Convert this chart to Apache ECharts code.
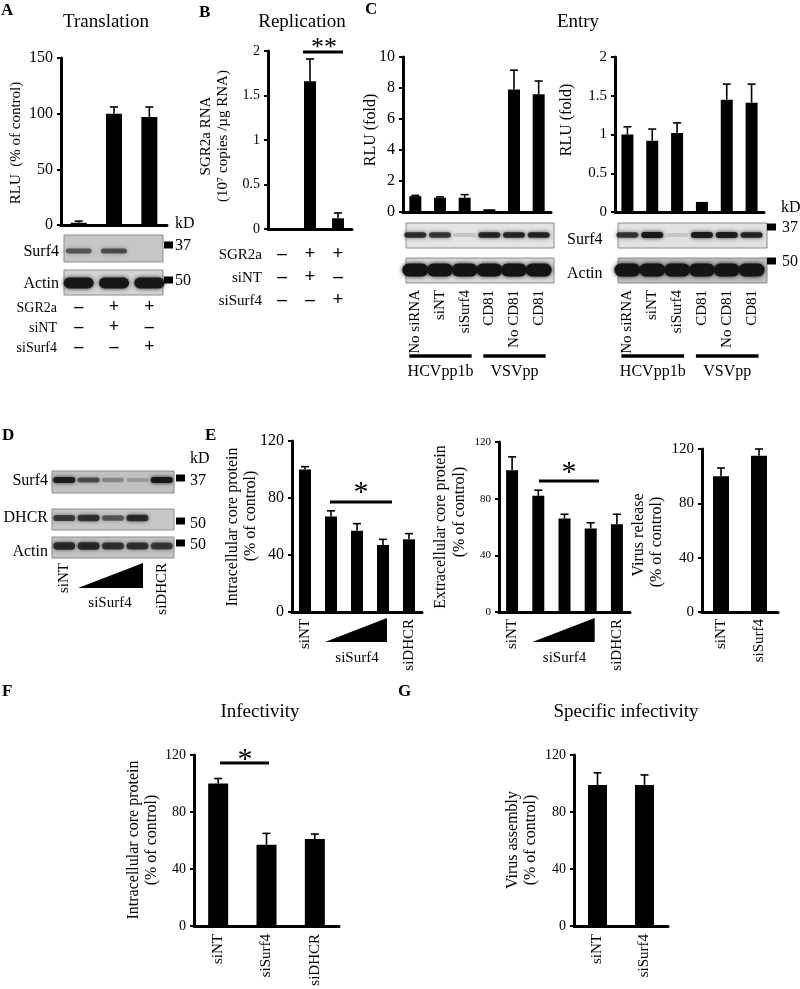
<!DOCTYPE html>
<html><head><meta charset="utf-8">
<script src="https://cdn.jsdelivr.net/npm/echarts/dist/echarts.min.js"></script>
<style>html,body{margin:0;padding:0;background:#fff}#c{width:800px;height:989px}</style>
</head><body><div id="c"></div>
<script>
const FONT = '"Liberation Serif", "Times New Roman", serif';

// ---------------- data ----------------
const aCats = ['Mock', 'SGR2a + siNT', 'SGR2a + siSurf4'];
const aValues = [2, 100, 97];
const aErrors = [1.5, 6, 9];
const bValues = [0, 1.66, 0.12];
const bErrors = [0, 0.25, 0.06];
const signRows = ['SGR2a', 'siNT', 'siSurf4'];
const signTable = [['–', '+', '+'], ['–', '+', '–'], ['–', '–', '+']];

const cLanes = ['No siRNA', 'siNT', 'siSurf4', 'CD81', 'No CD81', 'CD81'];
const c1Values = [1.02, 0.92, 0.92, 0.18, 7.9, 7.6];
const c1Errors = [0.05, 0.05, 0.2, 0, 1.25, 0.85];
const c2Values = [1.0, 0.92, 1.02, 0.13, 1.45, 1.41];
const c2Errors = [0.1, 0.15, 0.13, 0, 0.2, 0.24];
const cGroups = [['HCVpp1b', 0, 2], ['VSVpp', 3, 5]];

const eLanes = ['siNT', 'siSurf4', 'siSurf4', 'siSurf4', 'siDHCR'];
const e1Values = [100, 67, 57, 47, 51];
const e1Errors = [2, 4, 5, 4, 4];
const e2Values = [100, 82, 66, 59, 62];
const e2Errors = [9.5, 4, 3, 4, 7];
const e3Lanes = ['siNT', 'siSurf4'];
const e3Values = [100, 115];
const e3Errors = [6, 5];

const fLanes = ['siNT', 'siSurf4', 'siDHCR'];
const fValues = [100, 57, 61];
const fErrors = [3.5, 8, 3.5];
const gLanes = ['siNT', 'siSurf4'];
const gValues = [99, 99];
const gErrors = [8.5, 7];

// western blot band intensities (per lane)
const aSurf4Bands = [0.55, 0.6, 0];
const aActinBands = [0.95, 0.95, 0.95];
const c1Surf4Bands = [0.8, 0.75, 0.15, 0.85, 0.85, 0.85];
const c1ActinBands = [1, 1, 1, 1, 1, 1];
const c2Surf4Bands = [0.75, 0.95, 0.12, 0.9, 0.9, 0.85];
const c2ActinBands = [1, 1, 1, 1, 1, 1];
const dSurf4Bands = [0.9, 0.6, 0.3, 0.2, 0.95];
const dDhcrBands = [0.7, 0.75, 0.55, 0.8, 0];
const dActinBands = [0.8, 0.8, 0.75, 0.75, 0.7];

// ---------------- layout ----------------
const panels = [
  {key:'A', grid:{left:61, top:58, width:106, height:167}, cats:aCats, vals:aValues, errs:aErrors, max:150, interval:50, barW:16, tickFont:16, xLabel:null},
  {key:'B', grid:{left:268, top:51, width:84, height:178}, cats:aCats, vals:bValues, errs:bErrors, max:2, interval:0.5, barW:12, tickFont:14, xLabel:null},
  {key:'C1', grid:{left:403, top:57, width:148, height:155}, cats:cLanes, vals:c1Values, errs:c1Errors, max:10, interval:2, barW:12, tickFont:16, xLabel:{margin:78, size:15}},
  {key:'C2', grid:{left:615, top:57, width:149, height:155}, cats:cLanes, vals:c2Values, errs:c2Errors, max:2, interval:0.5, barW:12, tickFont:15, xLabel:{margin:78, size:15}},
  {key:'E1', grid:{left:292, top:441, width:130, height:171}, cats:eLanes, vals:e1Values, errs:e1Errors, max:120, interval:40, barW:12, tickFont:16, xLabel:{margin:7, size:15, ends:true}},
  {key:'E2', grid:{left:499, top:442, width:131, height:170}, cats:eLanes, vals:e2Values, errs:e2Errors, max:120, interval:40, barW:12, tickFont:11, xLabel:{margin:7, size:15, ends:true}},
  {key:'E3', grid:{left:702, top:449, width:76, height:163}, cats:e3Lanes, vals:e3Values, errs:e3Errors, max:120, interval:40, barW:16, tickFont:15, xLabel:{margin:7, size:15}},
  {key:'F', grid:{left:194, top:755, width:145, height:171}, cats:fLanes, vals:fValues, errs:fErrors, max:120, interval:40, barW:20, tickFont:14, xLabel:{margin:8, size:15}},
  {key:'G', grid:{left:574, top:755, width:94, height:171}, cats:gLanes, vals:gValues, errs:gErrors, max:120, interval:40, barW:19, tickFont:14, xLabel:{margin:8, size:15}}
];
const P = {}; panels.forEach(p => P[p.key] = p);
function laneX(p, i) { return p.grid.left + (i + 0.5) * p.grid.width / p.cats.length; }

const grids = [], xAxes = [], yAxes = [], series = [];
panels.forEach((p, k) => {
  grids.push(Object.assign({containLabel:false}, p.grid));
  xAxes.push({
    type:'category', gridIndex:k, data:p.cats,
    axisLine:{show:true, lineStyle:{color:'#000', width:3}},
    axisTick:{show:false},
    axisLabel: p.xLabel ? {
      show:true, rotate:90, interval:0, margin:p.xLabel.margin, color:'#000',
      fontFamily:FONT, fontSize:p.xLabel.size,
      formatter: p.xLabel.ends ? ((v, i) => (i === 0 || i === p.cats.length - 1) ? v : '') : (v => v)
    } : {show:false}
  });
  yAxes.push({
    type:'value', gridIndex:k, min:0, max:p.max, interval:p.interval,
    axisLine:{show:true, lineStyle:{color:'#000', width:3}},
    axisTick:{show:true, length:4, lineStyle:{color:'#000', width:2}},
    splitLine:{show:false},
    axisLabel:{color:'#000', fontFamily:FONT, fontSize:p.tickFont, margin:8}
  });
  series.push({type:'bar', xAxisIndex:k, yAxisIndex:k, data:p.vals, barWidth:p.barW,
    itemStyle:{color:'#000'}, silent:true});
  series.push({type:'custom', xAxisIndex:k, yAxisIndex:k, silent:true, z:3,
    data:p.vals.map((v, i) => [i, v, v + p.errs[i]]),
    renderItem(params, api) {
      if (api.value(2) <= api.value(1)) return;
      const p0 = api.coord([api.value(0), api.value(1)]);
      const p1 = api.coord([api.value(0), api.value(2)]);
      const cw = 4;
      return {type:'group', children:[
        {type:'line', shape:{x1:p0[0], y1:p0[1], x2:p1[0], y2:p1[1]}, style:{stroke:'#000', lineWidth:1.6}},
        {type:'line', shape:{x1:p1[0]-cw, y1:p1[1], x2:p1[0]+cw, y2:p1[1]}, style:{stroke:'#000', lineWidth:1.6}}
      ]};
    }
  });
});

// ---------------- annotation helpers ----------------
function txt(x, y, s, size, o) {
  o = o || {};
  const al = o.align || 'center', va = o.va || 'middle';
  return {type:'text', x:x, y:y, rotation:o.rot || 0, silent:true, z:10,
    style:{text:s, font:(o.bold ? 'bold ' : '') + size + 'px ' + FONT, fill:'#000',
      textAlign:al, align:al, textVerticalAlign:va, verticalAlign:va}};
}
function vtxt(x, y, s, size, o) { o = Object.assign({rot:Math.PI/2}, o || {}); return txt(x, y, s, size, o); }
function line(x1, y1, x2, y2, w) {
  return {type:'line', silent:true, z:10, shape:{x1, y1, x2, y2}, style:{stroke:'#000', lineWidth:w || 3}};
}
function sq(x, y) { return {type:'rect', silent:true, z:10, shape:{x:x, y:y - 3.5, width:9, height:7}, style:{fill:'#000'}}; }
function blot(x, y, w, h, bg, lanes, bands, bandY, bandH, bandW) {
  const els = [{type:'rect', silent:true, z:5, shape:{x, y, width:w, height:h}, style:{fill:bg, stroke:'#8c8c8c', lineWidth:1}}];
  lanes.forEach((cx, i) => {
    const a = bands[i]; if (!a) return;
    const bh = bandH * (0.6 + 0.4 * a);
    els.push({type:'rect', silent:true, z:6,
      shape:{x:cx - bandW/2, y:y + bandY - bh/2, width:bandW, height:bh, r:bh/2},
      style:{fill:'rgba(20,20,20,' + a + ')', shadowBlur:4, shadowColor:'rgba(20,20,20,' + a + ')'}});
  });
  return els;
}
function lanesOf(p) { return p.cats.map((c, i) => laneX(p, i)); }
function evenLanes(x, w, n) { const r = []; for (let i = 0; i < n; i++) r.push(x + (i + 0.5) * w / n); return r; }

const G = [];
// panel letters
G.push(txt(1, 11, 'A', 17, {bold:true, align:'left'}));
G.push(txt(199, 13, 'B', 17, {bold:true, align:'left'}));
G.push(txt(365, 10, 'C', 17, {bold:true, align:'left'}));
G.push(txt(2, 436, 'D', 17, {bold:true, align:'left'}));
G.push(txt(205, 436, 'E', 17, {bold:true, align:'left'}));
G.push(txt(2, 692, 'F', 17, {bold:true, align:'left'}));
G.push(txt(398, 692, 'G', 17, {bold:true, align:'left'}));
// titles
G.push(txt(106, 22, 'Translation', 19));
G.push(txt(302, 22, 'Replication', 19));
G.push(txt(578, 22, 'Entry', 19));
G.push(txt(260, 712, 'Infectivity', 19));
G.push(txt(626, 712, 'Specific infectivity', 19));

// y-axis titles
G.push(vtxt(16, 143, 'RLU  (% of control)', 15));
G.push(vtxt(206, 136, 'SGR2a RNA', 15));
G.push(vtxt(223, 136, '(10⁷ copies /µg RNA)', 15));
G.push(vtxt(371, 130, 'RLU (fold)', 16));
G.push(vtxt(567, 120, 'RLU (fold)', 16));
G.push(vtxt(233, 527, 'Intracellular core protein', 16));
G.push(vtxt(251, 516, '(% of control)', 16));
G.push(vtxt(441, 527, 'Extracellular core protein', 16));
G.push(vtxt(460, 512, '(% of control)', 16));
G.push(vtxt(639, 535, 'Virus release', 16));
G.push(vtxt(657, 542, '(% of control)', 16));
G.push(vtxt(134, 840, 'Intracellular core protein', 16));
G.push(vtxt(152, 840, '(% of control)', 16));
G.push(vtxt(513, 840, 'Virus assembly', 16));
G.push(vtxt(531, 840, '(% of control)', 16));

// ---- Panel A blots + sign table ----
const pA = P.A, aL = lanesOf(pA);
G.push(...blot(64, 235, 99, 27, '#c6c6c6', aL, aSurf4Bands, 16, 6, 26));
G.push(...blot(64, 270, 99, 25, '#d4d4d4', aL, aActinBands, 13, 11, 30));
G.push(txt(59, 252, 'Surf4', 16, {align:'right'}));
G.push(txt(59, 284, 'Actin', 16, {align:'right'}));
G.push(txt(175, 224, 'kD', 16, {align:'left'}));
G.push(sq(164, 245)); G.push(txt(175, 246, '37', 16, {align:'left'}));
G.push(sq(164, 280)); G.push(txt(175, 281, '50', 16, {align:'left'}));
signRows.forEach((r, j) => {
  const y = 308 + j * 20;
  G.push(txt(57, y, r, 14, {align:'right'}));
  signTable[j].forEach((s, i) => G.push(txt(aL[i], y - 1, s, 18, {bold:true})));
});

// ---- Panel B sign table + significance ----
const pB = P.B, bL = lanesOf(pB);
signRows.forEach((r, j) => {
  const y = 255 + j * 23;
  G.push(txt(262, y, r, 15, {align:'right'}));
  signTable[j].forEach((s, i) => G.push(txt(bL[i], y - 1, s, 19, {bold:true})));
});
G.push(txt(324, 48, '**', 26));
G.push(line(303, 52, 343, 52, 3));

// ---- Panel C blots, labels, groups ----
[['C1', c1Surf4Bands, c1ActinBands, '#e4e4e4', '#dadada'], ['C2', c2Surf4Bands, c2ActinBands, '#e2e2e2', '#bdbdbd']].forEach(([k, sb, ab, bg1, bg2]) => {
  const p = P[k], L = lanesOf(p);
  const x0 = p.grid.left + 3, w = p.grid.width;
  G.push(...blot(x0, 223, w, 25, bg1, L, sb, 12, 6, 22));
  G.push(...blot(x0, 258, w, 25, bg2, L, ab, 12, 13, 26));
  cGroups.forEach(([name, i0, i1]) => {
    const x1 = L[i0] - 6, x2 = L[i1] + 7;
    G.push(line(x1, 356, x2, 356, 3.5));
    G.push(txt((x1 + x2) / 2, 372, name, 16));
  });
});
G.push(txt(567, 240, 'Surf4', 16, {align:'left'}));
G.push(txt(567, 274, 'Actin', 16, {align:'left'}));
G.push(txt(781, 208, 'kD', 16, {align:'left'}));
G.push(sq(767, 227)); G.push(txt(782, 228, '37', 16, {align:'left'}));
G.push(sq(767, 261)); G.push(txt(782, 262, '50', 16, {align:'left'}));

// ---- Panel D blots ----
const dL = evenLanes(52, 122, 5);
G.push(...blot(52, 471, 122, 22, '#c2c2c2', dL, dSurf4Bands, 9, 6, 22));
G.push(...blot(52, 509, 122, 21, '#c8c8c8', dL, dDhcrBands, 9, 7, 22));
G.push(...blot(52, 537, 122, 21, '#c4c4c4', dL, dActinBands, 9, 8, 22));
G.push(txt(48, 481, 'Surf4', 16, {align:'right'}));
G.push(txt(48, 518, 'DHCR', 16, {align:'right'}));
G.push(txt(48, 552, 'Actin', 16, {align:'right'}));
G.push(txt(190, 459, 'kD', 16, {align:'left'}));
G.push(sq(176, 478)); G.push(txt(190, 481, '37', 16, {align:'left'}));
G.push(sq(176, 521)); G.push(txt(190, 524, '50', 16, {align:'left'}));
G.push(sq(176, 543)); G.push(txt(190, 545, '50', 16, {align:'left'}));
G.push(vtxt(dL[0], 563, 'siNT', 15, {align:'right'}));
G.push(vtxt(dL[4], 563, 'siDHCR', 15, {align:'right'}));
G.push({type:'polygon', silent:true, z:10, shape:{points:[[78, 588], [143, 588], [143, 563]]}, style:{fill:'#000'}});
G.push(txt(110, 603, 'siSurf4', 15));

// ---- Panel E triangles, significance ----
['E1', 'E2'].forEach(k => {
  const p = P[k], L = lanesOf(p);
  const x1 = L[1] - 6, x2 = L[3] + 4;
  G.push({type:'polygon', silent:true, z:10, shape:{points:[[x1, 642], [x2, 642], [x2, 618]]}, style:{fill:'#000'}});
  G.push(txt((L[1] + L[3]) / 2, 658, 'siSurf4', 15));
});
G.push(txt(361, 493, '*', 30));
G.push(line(330, 502, 392, 502, 3));
G.push(txt(569, 473, '*', 30));
G.push(line(539, 481, 599, 481, 3));

// ---- Panel F significance ----
G.push(txt(245, 760, '*', 30));
G.push(line(220, 763, 269, 763, 3));

const chart = echarts.init(document.getElementById('c'), null, {renderer:'canvas'});
chart.setOption({
  animation:false,
  backgroundColor:'#fff',
  textStyle:{fontFamily:FONT},
  grid:grids, xAxis:xAxes, yAxis:yAxes, series:series,
  graphic:G
});
</script></body></html>
